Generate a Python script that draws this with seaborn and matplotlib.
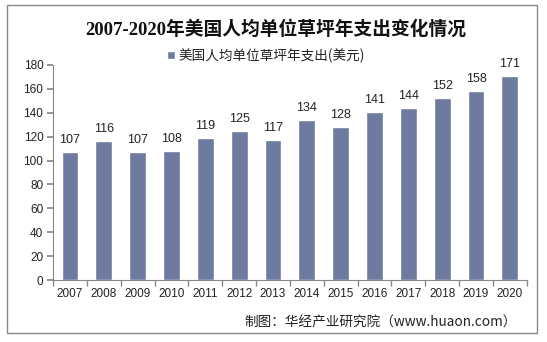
import matplotlib
matplotlib.use("Agg")
import matplotlib.pyplot as plt
from matplotlib.patches import Rectangle
import seaborn as sns
import pandas as pd
import numpy as np

years = ["2007", "2008", "2009", "2010", "2011", "2012", "2013",
         "2014", "2015", "2016", "2017", "2018", "2019", "2020"]
spend = [107, 116, 107, 108, 119, 125, 117, 134, 128, 141, 144, 152, 158, 171]
series_name = "美国人均单位草坪年支出(美元)"
title = "2007-2020年美国人均单位草坪年支出变化情况"
source = "制图：华经产业研究院（www.huaon.com）"

sns.set_theme(style="white")
plt.rcParams["font.family"] = ["Noto Sans CJK SC", "DejaVu Sans"]

df = pd.DataFrame({"year": years, "spend": spend})

fig = plt.figure(figsize=(5.47, 3.42), dpi=100)
ax = fig.add_axes([0.097, 0.181, 0.866, 0.629])

bar_color = "#6E7AA0"
sns.barplot(data=df, x="year", y="spend", color=bar_color, width=0.5,
            saturation=1, ax=ax, label=series_name)

for i, v in enumerate(spend):
    ax.text(i, v + 5, str(v), ha="center", va="bottom", fontsize=9,
            color="#222222", family=["Liberation Sans", "DejaVu Sans"])

ax.set_xlim(-0.5, len(years) - 0.5)
ax.set_ylim(0, 180)
ax.set_yticks(np.arange(0, 181, 20))
ax.set_xlabel("")
ax.set_ylabel("")

for lab in ax.get_xticklabels() + ax.get_yticklabels():
    lab.set_family(["Liberation Sans", "DejaVu Sans"])
    lab.set_fontsize(8.5)
    lab.set_color("#222222")

ax.tick_params(axis="x", which="major", length=0, pad=6)
ax.set_xticks(np.arange(-0.5, len(years), 1), minor=True)
ax.tick_params(axis="x", which="minor", length=4, color="#888888", direction="out")
ax.tick_params(axis="y", length=4, color="#888888", direction="out", pad=3)
ax.yaxis.set_tick_params(left=True)
ax.xaxis.set_tick_params(which="minor", bottom=True)

sns.despine(ax=ax)
for s in ("left", "bottom"):
    ax.spines[s].set_color("#888888")
    ax.spines[s].set_linewidth(0.8)

leg = ax.legend(loc="lower center", bbox_to_anchor=(0.45, 0.985), frameon=False,
                fontsize=9.8, handlelength=0.55, handleheight=0.55, handletextpad=0.3,
                borderaxespad=0)
for t in leg.get_texts():
    t.set_color("#222222")

fig.text(0.505, 0.915, title, ha="center", va="center", fontsize=13.5,
         fontweight="bold", color="#111111",
         family=["Liberation Serif", "Noto Sans CJK SC"])
fig.text(0.945, 0.058, source, ha="right", va="center", fontsize=9.8,
         color="#222222")

fig.patches.append(Rectangle((0.013, 0.027), 0.969, 0.957, transform=fig.transFigure,
                             fill=False, edgecolor="#888888", linewidth=1))

fig.savefig("out.png", dpi=100)
